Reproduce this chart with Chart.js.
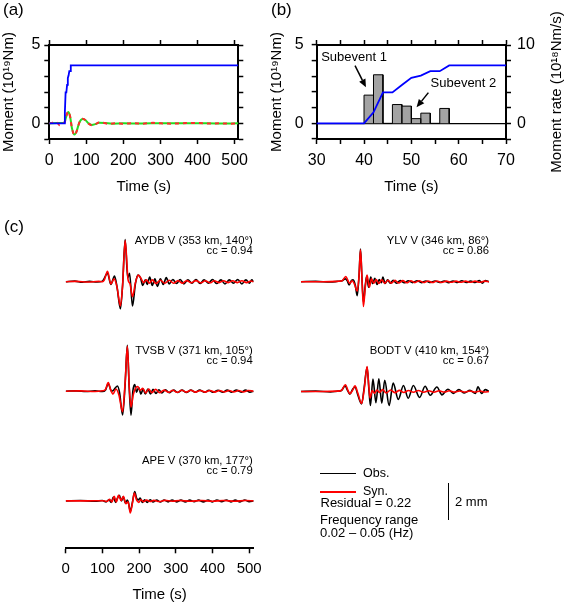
<!DOCTYPE html>
<html><head><meta charset="utf-8">
<script src="https://cdn.jsdelivr.net/npm/chart.js@4.4.1/dist/chart.umd.min.js"></script>
<style>
html,body{margin:0;padding:0;background:#fff;}
#wrap{position:relative;width:565px;height:602px;overflow:hidden;font-family:"Liberation Sans",Arial,Helvetica,sans-serif;color:#000;}
canvas{position:absolute;}
.t{position:absolute;white-space:nowrap;}
</style></head><body><div id="wrap">
<canvas id="ca" width="268" height="200" style="left:0;top:0"></canvas>
<canvas id="cb" width="297" height="200" style="left:268px;top:0"></canvas>
<canvas id="cl" width="280" height="374" style="left:0;top:228px"></canvas>
<canvas id="cr" width="275" height="200" style="left:290px;top:228px"></canvas>
</div>
<script>
// ---------------- DATA ----------------
// (a)/(b) cumulative moment (10^19 Nm) vs time (s)
const momentCum = [[0,0],[40,0],[42,0.7],[44,1.97],[46,1.97],[48,2.45],[50,2.9],[52,3.05],[54,3.33],[56,3.33],[58,3.7],[510,3.7]];
// (a) red and green curves (10^19 Nm)
const curveRed = [[0,0],[8,0.03],[16,0.1],[22,0.02],[28,-0.12],[34,-0.05],[38,0.02],[42,0.1],[46,0.5],[51,0.75],[56,0.45],[61,-0.3],[68,-0.75],[74,-0.5],[81,0.05],[90,0.3],[98,0.2],[106,-0.02],[115,-0.12],[124,-0.06],[134,0.05],[145,0.04],[160,-0.03],[180,0.01],[200,-0.02],[230,0.01],[250,-0.02],[280,0.03],[300,0],[330,-0.02],[360,0.01],[400,0.02],[430,-0.01],[460,0],[490,-0.02],[510,0]];
const curveGreen = [[0,0],[20,0.02],[40,0.03],[46,0.45],[51,0.72],[56,0.45],[61,-0.3],[68,-0.72],[74,-0.48],[81,0.05],[90,0.28],[98,0.2],[106,0],[115,-0.1],[124,-0.05],[134,0.03],[150,0.02],[170,-0.02],[200,0],[250,-0.01],[300,0.01],[350,0],[400,0.01],[450,-0.01],[510,0]];
// (b) moment-rate histogram (10^18 Nm/s), bins of 2 s
const rateBinStart = [40,42,46,48,50,52,56];
const rateValues   = [3.6,6.2,2.4,2.2,0.6,1.3,1.9];
const rateBinWidth = 2;
// tick labels
const xTicksA = [0,100,200,300,400,500];
const yLabelsA = [0,5];
const xLabelsB = [30,40,50,60,70];
const yLabelsB = [0,5];
const y2LabelsB = [0,10];
const xTicksC = [0,100,200,300,400,500];
// (c) waveforms: [time s, amplitude mm]
const AYDB_obs = [[0,0],[25,0.03],[45,-0.03],[65,0.02],[85,-0.02],[100,0.03],[114,0.45],[123,-0.15],[133,0.3],[140,-0.3],[149,-1.45],[155,-0.2],[162,2.25],[169,0.2],[174,0.45],[182,-1.3],[190,-0.1],[197,0.35],[204,0.2],[210,-0.2],[217,0.1],[222,-0.15],[229,0.25],[236,-0.2],[243,0.15],[250,-0.25],[258,0.15],[266,-0.15],[274,0.22],[282,-0.12],[292,0.12],[302,-0.1],[312,0.12],[322,-0.12],[333,0.1],[344,-0.08],[355,0.12],[366,-0.1],[377,0.1],[389,-0.08],[400,0.12],[411,-0.1],[423,0.1],[434,-0.12],[446,0.1],[457,-0.08],[469,0.12],[480,-0.12],[491,0.1],[501,-0.08],[507,0.1],[512,0]];
const AYDB_syn = [[0,0],[30,0.02],[60,-0.02],[90,0.02],[100,0],[105,0.08],[114,0.55],[123,-0.12],[132,0.15],[140,-0.3],[149,-1.3],[155,-0.2],[162,2.2],[170,0.1],[175,-0.1],[182,-0.8],[190,-0.05],[198,0.35],[206,0.15],[212,-0.05],[220,0.1],[228,-0.08],[236,0.1],[246,-0.1],[258,0.08],[270,-0.08],[282,0.08],[294,-0.08],[306,0.06],[318,-0.08],[330,0.06],[342,-0.06],[355,0.06],[368,-0.06],[380,0.05],[393,-0.06],[405,0.05],[418,-0.05],[430,0.05],[443,-0.05],[455,0.05],[468,-0.05],[480,0.05],[493,-0.05],[505,0.04],[512,0]];
const TVSB_obs = [[0,0],[30,0.02],[55,-0.02],[80,0.02],[100,-0.02],[108,0.05],[116,0.4],[125,0],[130,0.05],[141,0.28],[147,-0.1],[155,-1.27],[162,0.4],[168,2.45],[173,0.2],[178,-1.28],[183,0],[188,0.35],[193,-0.05],[199,0.2],[205,-0.15],[211,0.12],[217,-0.15],[224,0.12],[231,-0.15],[238,0.1],[246,-0.12],[254,0.08],[262,-0.1],[272,0.08],[282,-0.08],[294,0.06],[305,-0.07],[317,0.06],[329,-0.07],[341,0.06],[353,-0.05],[365,0.06],[378,-0.06],[390,0.05],[402,-0.06],[415,0.05],[428,-0.06],[440,0.06],[452,-0.05],[465,0.06],[478,-0.05],[490,0.06],[502,-0.05],[512,0]];
const TVSB_syn = [[0,0],[40,0.02],[80,-0.02],[100,0.02],[108,0.08],[116,0.46],[122,0.1],[129,-0.15],[137,0.12],[145,-0.2],[155,-1.1],[162,0.5],[168,2.4],[173,0.3],[178,-0.85],[184,-0.2],[190,0.15],[196,0.25],[203,0.05],[210,0.15],[218,-0.1],[226,0.12],[235,-0.08],[245,0.1],[256,-0.08],[268,0.06],[280,-0.06],[292,0.05],[304,-0.06],[316,0.05],[328,-0.05],[341,0.05],[354,-0.05],[367,0.04],[380,-0.05],[393,0.04],[406,-0.05],[419,0.04],[432,-0.04],[445,0.04],[458,-0.04],[471,0.04],[484,-0.04],[497,0.04],[512,0]];
const APE_obs = [[0,0],[40,0.02],[80,-0.02],[100,0.02],[110,-0.05],[118,0.06],[124,-0.08],[130,0.2],[136,-0.08],[141,0.15],[146,0.3],[152,0],[157,0.22],[163,-0.12],[168,0.05],[171,-0.1],[176,-0.55],[182,-0.05],[188,0.5],[193,0.15],[198,0.05],[203,0.15],[209,-0.08],[215,0.06],[222,-0.08],[230,0.06],[238,-0.06],[248,0.05],[258,-0.06],[268,0.05],[279,-0.05],[290,0.05],[302,-0.05],[314,0.04],[326,-0.05],[338,0.04],[350,-0.04],[362,0.04],[375,-0.05],[388,0.04],[400,-0.05],[412,0.05],[425,-0.04],[438,0.05],[450,-0.05],[462,0.04],[475,-0.05],[488,0.05],[500,-0.04],[512,0]];
const APE_syn = [[0,0],[60,0],[100,0.01],[112,-0.03],[120,0.08],[126,-0.06],[132,0.25],[138,-0.05],[144,0.3],[151,0.02],[157,0.25],[164,-0.15],[170,-0.05],[176,-0.65],[182,-0.1],[187,0.42],[193,0.05],[199,-0.08],[205,0.06],[212,-0.04],[220,0.04],[230,-0.03],[240,0.03],[255,-0.03],[270,0.03],[290,-0.02],[310,0.02],[340,-0.02],[370,0.02],[400,-0.02],[430,0.02],[460,-0.02],[490,0.02],[512,0]];
const YLV_obs = [[0,0],[40,0.02],[80,-0.02],[100,0.02],[112,0.05],[120,0.15],[126,0.05],[131,-0.18],[137,0.05],[142,0.1],[148,-0.2],[153,-0.75],[158,0.3],[162,1.75],[166,0.2],[170,-1.1],[175,-0.2],[179,0.3],[184,-0.3],[190,0.25],[195,-0.1],[201,0.18],[207,-0.15],[213,0.12],[219,-0.05],[223,0.25],[229,-0.1],[236,0.1],[243,-0.08],[251,0.08],[260,-0.08],[270,0.06],[281,-0.06],[292,0.05],[304,-0.05],[316,0.05],[328,-0.05],[340,0.04],[352,-0.04],[365,0.04],[378,-0.04],[390,0.04],[402,-0.05],[414,0.04],[426,-0.04],[438,0.05],[450,-0.04],[462,0.04],[474,-0.04],[486,0.06],[494,-0.08],[502,0.06],[512,0]];
const YLV_syn = [[0,0],[60,0],[100,0.02],[112,0.05],[122,0.28],[128,0.05],[133,-0.1],[139,0.05],[145,-0.1],[153,-0.5],[158,0.3],[162,1.7],[166,0.2],[170,-1.32],[175,-0.3],[180,0.36],[186,-0.3],[192,0.15],[198,-0.08],[205,0.12],[212,-0.1],[220,0.1],[228,-0.08],[237,0.08],[246,-0.08],[256,0.07],[266,-0.07],[277,0.06],[288,-0.06],[299,0.05],[310,-0.05],[322,0.05],[334,-0.04],[346,0.04],[358,-0.04],[370,0.04],[383,-0.04],[396,0.03],[409,-0.03],[422,0.03],[435,-0.03],[448,0.03],[461,-0.03],[474,0.03],[487,-0.03],[500,0.03],[512,0]];
const BODT_obs = [[0,0],[40,0.02],[80,-0.02],[100,0.02],[110,0.05],[120,0.3],[127,0.05],[133,-0.15],[140,0.1],[147,0.25],[155,-0.2],[165,-0.66],[172,0.2],[180,1.3],[185,0.1],[189,-0.75],[196,0.66],[204,-0.6],[212,0.68],[220,-0.62],[228,0.6],[240,-0.75],[251,0.45],[265,-0.42],[279,0.32],[292,-0.36],[306,0.32],[323,-0.32],[338,0.28],[352,-0.2],[370,0.24],[384,-0.18],[400,0.12],[415,-0.1],[430,0.1],[445,-0.08],[460,0.06],[475,-0.1],[482,0.25],[492,-0.1],[502,0.1],[512,0]];
const BODT_syn = [[0,0],[60,0],[100,0.02],[110,0.05],[121,0.36],[128,0.05],[133,-0.12],[140,0.05],[147,0.3],[155,-0.1],[165,-0.64],[172,0.1],[180,1.34],[185,0.2],[188,-0.35],[194,0.05],[200,-0.1],[207,0.08],[214,-0.05],[222,0.1],[232,-0.08],[244,0.08],[256,-0.06],[268,0.06],[280,-0.05],[293,0.05],[306,-0.04],[320,0.05],[334,-0.04],[348,0.04],[362,-0.04],[376,0.04],[390,-0.03],[404,0.04],[418,-0.03],[432,0.03],[446,-0.03],[460,0.03],[474,-0.03],[488,0.03],[500,-0.03],[512,0]];

// ---------------- LAYOUT / STYLE ----------------
Chart.defaults.font.family = '"Liberation Sans", Arial, Helvetica, sans-serif';
Chart.defaults.color = '#000';
const PX_PER_MM = 18.7;
const OBS_COLOR = '#000000', SYN_COLOR = '#ff0000';
const xy = arr => arr.map(p => ({x: p[0], y: p[1]}));
const shift = (arr, off) => arr.map(p => ({x: p[0], y: p[1] + off}));
const frame = () => ({
  border: {display: true, color: '#000', width: 2},
  grid: {display: true, drawOnChartArea: false, drawTicks: true, tickLength: 5, tickWidth: 1.5, tickColor: '#000', color: '#000'}
});
const base = (padding) => ({
  responsive: false, devicePixelRatio: 1, animation: false,
  plugins: {legend: {display: false}, tooltip: {enabled: false}},
  layout: {padding},
  elements: {point: {radius: 0}}
});
const labelIf = list => v => list.includes(v) ? String(v) : '';

// ---------------- (a) ----------------
new Chart(document.getElementById('ca'), {
  type: 'line',
  data: {datasets: [
    {data: xy(momentCum), borderColor: '#0000ff', borderWidth: 1.8, tension: 0},
    {data: xy(curveRed), borderColor: '#ff2a2a', borderWidth: 2, borderDash: [4, 4], cubicInterpolationMode: 'monotone'},
    {data: xy(curveGreen), borderColor: '#22dd22', borderWidth: 2, cubicInterpolationMode: 'monotone'}
  ]},
  options: Object.assign(base({left: 0, top: 40, right: 268 - 238.3 - 5, bottom: 0}), {
    scales: {
      x: Object.assign(frame(), {type: 'linear', position: 'bottom', min: 0, max: 510,
        afterBuildTicks: s => { s.ticks = xTicksA.map(v => ({value: v})); },
        ticks: {font: {size: 16}, padding: 7, maxRotation: 0, autoSkip: false},
        title: {display: true, text: 'Time (s)', font: {size: 15}, padding: {top: 0, bottom: 4}},
        afterFit: s => { s.height = 61; }}),
      xt: Object.assign(frame(), {type: 'linear', position: 'top', min: 0, max: 510,
        afterBuildTicks: s => { s.ticks = xTicksA.map(v => ({value: v})); },
        ticks: {display: false}, afterFit: s => { s.height = 5; }}),
      y: Object.assign(frame(), {type: 'linear', position: 'left', min: -1, max: 5,
        ticks: {stepSize: 1, font: {size: 16}, padding: 4, autoSkip: false, callback: labelIf(yLabelsA)},
        title: {display: true, text: 'Moment (10¹⁹Nm)', font: {size: 15}, padding: 0},
        afterFit: s => { s.width = 49.3; }}),
      yr: Object.assign(frame(), {type: 'linear', position: 'right', min: -1, max: 5,
        ticks: {display: false, stepSize: 1}, afterFit: s => { s.width = 5; }})
    }
  })
});

// ---------------- (b) ----------------
const subeventNotes = [
  {text: 'Subevent 1', at: [37.9, 4.21], from: [38.1, 3.68], to: [40.4, 2.3]},
  {text: 'Subevent 2', at: [61.0, 2.55], from: [53.6, 1.96], to: [51.1, 1.02]}
];
const notePlugin = {
  id: 'notes',
  afterDatasetsDraw(chart) {
    const {ctx, scales: {x, y}} = chart;
    ctx.save();
    ctx.fillStyle = '#000'; ctx.strokeStyle = '#000';
    ctx.font = '13px "Liberation Sans", Arial, sans-serif';
    ctx.textAlign = 'center'; ctx.textBaseline = 'middle';
    subeventNotes.forEach(n => {
      ctx.fillText(n.text, x.getPixelForValue(n.at[0]), y.getPixelForValue(n.at[1]));
      const x1 = x.getPixelForValue(n.from[0]), y1 = y.getPixelForValue(n.from[1]);
      const x2 = x.getPixelForValue(n.to[0]), y2 = y.getPixelForValue(n.to[1]);
      const L = Math.hypot(x2 - x1, y2 - y1), ux = (x2 - x1) / L, uy = (y2 - y1) / L;
      const hl = 8, hw = 3.5;
      ctx.lineWidth = 1.5;
      ctx.beginPath(); ctx.moveTo(x1, y1); ctx.lineTo(x2 - ux * hl, y2 - uy * hl); ctx.stroke();
      ctx.beginPath();
      ctx.moveTo(x2, y2);
      ctx.lineTo(x2 - ux * hl - uy * hw, y2 - uy * hl + ux * hw);
      ctx.lineTo(x2 - ux * hl + uy * hw, y2 - uy * hl - ux * hw);
      ctx.closePath(); ctx.fill();
    });
    ctx.restore();
  }
};
// histogram outline built from the bins (each bin: up, across, down)
const histPoints = rateBinStart.flatMap((t, i) => [
  {x: t, y: 0}, {x: t, y: rateValues[i]}, {x: t + rateBinWidth, y: rateValues[i]}, {x: t + rateBinWidth, y: 0}
]);
new Chart(document.getElementById('cb'), {
  type: 'line',
  data: {datasets: [
    {data: xy(momentCum), borderColor: '#0000ff', borderWidth: 1.8, tension: 0, xAxisID: 'x', yAxisID: 'y'},
    {data: histPoints, borderColor: '#000', borderWidth: 1, tension: 0, fill: 'origin',
      backgroundColor: '#a3a3a3', xAxisID: 'x', yAxisID: 'y2'}
  ]},
  options: Object.assign(base({left: 0, top: 40, right: 0, bottom: 0}), {
    scales: {
      x: Object.assign(frame(), {type: 'linear', position: 'bottom', min: 30, max: 70,
        ticks: {stepSize: 5, font: {size: 16}, padding: 7, maxRotation: 0, autoSkip: false, callback: labelIf(xLabelsB)},
        title: {display: true, text: 'Time (s)', font: {size: 15}, padding: {top: 0, bottom: 4}},
        afterFit: s => { s.height = 61; }}),
      xt: Object.assign(frame(), {type: 'linear', position: 'top', min: 30, max: 70,
        ticks: {display: false, stepSize: 5}, afterFit: s => { s.height = 5; }}),
      y: (() => { const f = frame(); f.grid.drawOnChartArea = true;
        f.grid.color = c => (c.tick && c.tick.value === 0) ? '#000' : 'rgba(0,0,0,0)'; f.grid.lineWidth = 1.2;
        return Object.assign(f, {type: 'linear', position: 'left', min: -1, max: 5,
        ticks: {stepSize: 1, font: {size: 16}, padding: 8, autoSkip: false, callback: labelIf(yLabelsB)},
        title: {display: true, text: 'Moment (10¹⁹Nm)', font: {size: 15}, padding: 0},
        afterFit: s => { s.width = 48.7; }}); })(),
      y2: Object.assign(frame(), {type: 'linear', position: 'right', min: -2, max: 10,
        ticks: {stepSize: 2, font: {size: 16}, padding: 6, autoSkip: false, callback: labelIf(y2LabelsB)},
        afterFit: s => { s.width = 59; }})
    }
  }),
  plugins: [notePlugin]
});

// ---------------- (c) ----------------
const LEFT_AREA_TOP = 228, LEFT_AREA_BOTTOM = 548.3;
const RIGHT_AREA_TOP = 228, RIGHT_AREA_BOTTOM = 428;
const offL = py => (LEFT_AREA_BOTTOM - py) / PX_PER_MM;
const offR = py => (RIGHT_AREA_BOTTOM - py) / PX_PER_MM;
const wave = (arr, off, color) => ({data: shift(arr, off), borderColor: color, borderWidth: 1.6, cubicInterpolationMode: 'monotone', pointRadius: 0});

new Chart(document.getElementById('cl'), {
  type: 'line',
  data: {datasets: [
    wave(AYDB_syn, offL(281.7), SYN_COLOR), wave(TVSB_syn, offL(391.2), SYN_COLOR), wave(APE_syn, offL(500.9), SYN_COLOR),
    wave(AYDB_obs, offL(281.7), OBS_COLOR), wave(TVSB_obs, offL(391.2), OBS_COLOR), wave(APE_obs, offL(500.9), OBS_COLOR)
  ]},
  options: Object.assign(base({left: 65.7, top: 0, right: 280 - 253.6, bottom: 0}), {
    scales: {
      x: Object.assign(frame(), {type: 'linear', position: 'bottom', min: 0, max: 512,
        afterBuildTicks: s => { s.ticks = xTicksC.map(v => ({value: v})); },
        ticks: {font: {size: 15}, padding: 7, maxRotation: 0, autoSkip: false},
        title: {display: true, text: 'Time (s)', font: {size: 15}, padding: {top: 0, bottom: -2}},
        afterFit: s => { s.height = 374 - (LEFT_AREA_BOTTOM - LEFT_AREA_TOP); }}),
      y: {display: false, min: 0, max: (LEFT_AREA_BOTTOM - LEFT_AREA_TOP) / PX_PER_MM}
    }
  })
});
new Chart(document.getElementById('cr'), {
  type: 'line',
  data: {datasets: [
    wave(YLV_syn, offR(281.7), SYN_COLOR), wave(BODT_syn, offR(391.5), SYN_COLOR),
    wave(YLV_obs, offR(281.7), OBS_COLOR), wave(BODT_obs, offR(391.5), OBS_COLOR)
  ]},
  options: Object.assign(base({left: 11, top: 0, right: 275 - 199, bottom: 0}), {
    scales: {
      x: {display: false, type: 'linear', min: 0, max: 512},
      y: {display: false, min: 0, max: (RIGHT_AREA_BOTTOM - RIGHT_AREA_TOP) / PX_PER_MM}
    }
  })
});

// ---------------- text & legend ----------------
const wrap = document.getElementById('wrap');
function txt(s, o) {
  const d = document.createElement('div');
  d.className = 't'; d.textContent = s;
  const size = o.size || 13, lh = Math.round(size * 1.2);
  d.style.fontSize = size + 'px'; d.style.lineHeight = lh + 'px';
  d.style.top = (o.cy - lh / 2) + 'px';
  if (o.right !== undefined) d.style.right = (565 - o.right) + 'px'; else d.style.left = o.left + 'px';
  wrap.appendChild(d); return d;
}
txt('(a)', {left: 3, cy: 10, size: 17});
txt('(b)', {left: 271, cy: 10, size: 17});
txt('(c)', {left: 4, cy: 227, size: 17});
const stationLabels = [
  ['AYDB V (353 km, 140°)', 'cc = 0.94', 252.7, 240],
  ['YLV V (346 km, 86°)', 'cc = 0.86', 489, 240],
  ['TVSB V (371 km, 105°)', 'cc = 0.94', 252.7, 350],
  ['BODT V (410 km, 154°)', 'cc = 0.67', 489, 350],
  ['APE V (370 km, 177°)', 'cc = 0.79', 252.7, 460]
];
stationLabels.forEach(l => { txt(l[0], {right: l[2], cy: l[3], size: 11.3}); txt(l[1], {right: l[2], cy: l[3] + 9.5, size: 11.3}); });
txt('Obs.', {left: 363, cy: 473.3, size: 12.5});
txt('Syn.', {left: 363, cy: 491.7, size: 12.5});
txt('Residual = 0.22', {left: 320.5, cy: 502.7, size: 13});
txt('Frequency range', {left: 320, cy: 520, size: 13});
txt('0.02 – 0.05 (Hz)', {left: 320, cy: 533, size: 13});
txt('2 mm', {left: 455, cy: 501.7, size: 13});
function bar(left, top, w, h, color) {
  const d = document.createElement('div');
  Object.assign(d.style, {position: 'absolute', left: left + 'px', top: top + 'px', width: w + 'px', height: h + 'px', background: color});
  wrap.appendChild(d);
}
bar(320, 472.5, 36, 1.5, OBS_COLOR);
bar(320, 491, 36, 1.5, SYN_COLOR);
bar(447.5, 482.7, 1.5, 2 * PX_PER_MM, '#000');
const rt = document.createElement('div');
rt.className = 't'; rt.textContent = 'Moment rate (10¹⁸Nm/s)';
Object.assign(rt.style, {fontSize: '15px', lineHeight: '18px', width: '220px', textAlign: 'center', left: (556 - 110) + 'px', top: (92 - 9) + 'px', transform: 'rotate(-90deg)', transformOrigin: '50% 50%'});
wrap.appendChild(rt);
</script>
</body></html>
